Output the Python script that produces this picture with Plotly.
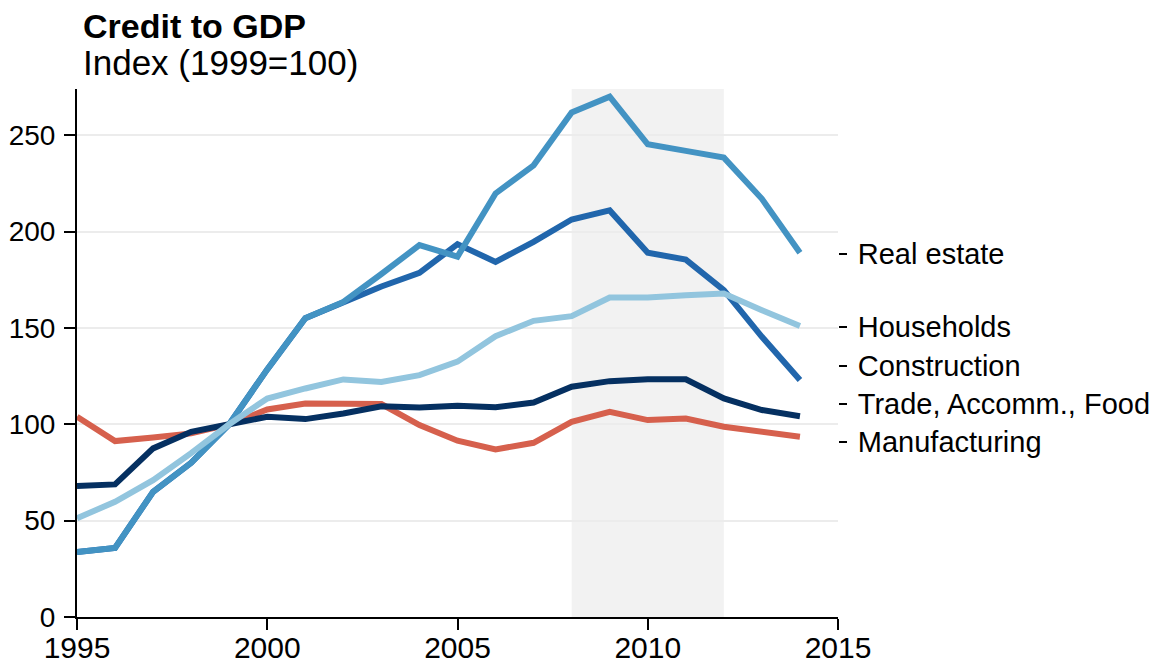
import plotly.graph_objects as go

years = list(range(1995, 2015))

real_estate = [33.7, 35.8, 65, 80, 100, 128.5, 155, 163.5, 178, 193, 187, 219.8, 234.4, 261.8, 270,
               245.3, 241.9, 238.4, 217, 189]
construction = [33.7, 35.8, 65, 80, 100, 128.5, 155, 163, 171.5, 178.6, 193.5, 184.3, 194.7, 206.3, 211,
                189, 185.5, 169.6, 145.4, 123]
households = [51.2, 59.8, 71, 85, 100, 113.4, 118.6, 123.3, 122, 125.5, 132.5, 145.7, 153.7, 156.1, 165.8,
              165.8, 167, 167.9, 159.2, 151]
trade = [68, 68.8, 87.5, 96.1, 100, 103.9, 102.7, 105.6, 109.4, 108.7, 109.6, 108.8, 111.3, 119.5, 122.4,
         123.4, 123.4, 113.4, 107.4, 104.2]
manufacturing = [103.9, 91.3, 93.2, 95.3, 100, 107.7, 110.8, 110.8, 110.5, 99.6, 91.5, 87, 90.4, 101.3, 106.5,
                 102.2, 103, 98.7, 96.1, 93.5]

label_names = ["Real estate", "Households", "Construction", "Trade, Accomm., Food", "Manufacturing"]
label_positions = [188.3, 150.4, 130.2, 110.5, 90.8]

shade_start, shade_end = 2008, 2012
y_max = 274

series = [
    ("Manufacturing", manufacturing, "#d6604d"),
    ("Trade, Accomm., Food", trade, "#053061"),
    ("Construction", construction, "#2166ac"),
    ("Real estate", real_estate, "#4393c3"),
    ("Households", households, "#92c5de"),
]

FONT = "Liberation Sans, Arial, sans-serif"

fig = go.Figure()
for name, vals, color in series:
    fig.add_trace(go.Scatter(x=years, y=vals, mode="lines", name=name,
                             line=dict(color=color, width=6), showlegend=False))

# invisible trace for right axis labels
fig.add_trace(go.Scatter(x=[years[0]], y=[None], yaxis="y2", showlegend=False, hoverinfo="skip"))

fig.add_shape(type="rect", xref="x", yref="y", x0=shade_start, x1=shade_end, y0=0, y1=y_max,
              fillcolor="#f2f2f2", line=dict(width=0), layer="below")

fig.update_layout(
    width=1167, height=662,
    margin=dict(l=69, r=337, t=81, b=53),
    plot_bgcolor="white", paper_bgcolor="white",
    font=dict(family=FONT, size=28, color="black"),
    xaxis=dict(range=[1995, 2015], tickvals=[1995, 2000, 2005, 2010, 2015],
               showline=True, linecolor="black", linewidth=2,
               ticks="outside", ticklen=11, tickwidth=2, tickcolor="black",
               showgrid=False, zeroline=False, tickfont=dict(size=30),
               ticklabelstandoff=-8, automargin=False),
    yaxis=dict(range=[0, y_max], tickvals=[0, 50, 100, 150, 200, 250],
               showline=True, linecolor="black", linewidth=2,
               ticks="outside", ticklen=11, tickwidth=2, tickcolor="black",
               showgrid=True, gridcolor="#ececec", gridwidth=1.5, zeroline=False,
               tickfont=dict(size=28), ticklabelstandoff=3, automargin=False),
    yaxis2=dict(range=[0, y_max], overlaying="y", side="right",
                tickvals=label_positions, ticktext=label_names,
                showline=False, showgrid=False, zeroline=False,
                ticks="outside", ticklen=8, tickwidth=1.5, tickcolor="black",
                tickfont=dict(size=29), ticklabelstandoff=5, automargin=False),
    annotations=[
        dict(text="<b>Credit to GDP</b>", xref="paper", yref="paper", x=0, y=1, xanchor="left",
             yanchor="middle", xshift=4, yshift=63, showarrow=False, font=dict(size=34)),
        dict(text="Index (1999=100)", xref="paper", yref="paper", x=0, y=1, xanchor="left",
             yanchor="middle", xshift=4, yshift=27, showarrow=False, font=dict(size=35)),
    ],
)

fig.write_html("out.html")
